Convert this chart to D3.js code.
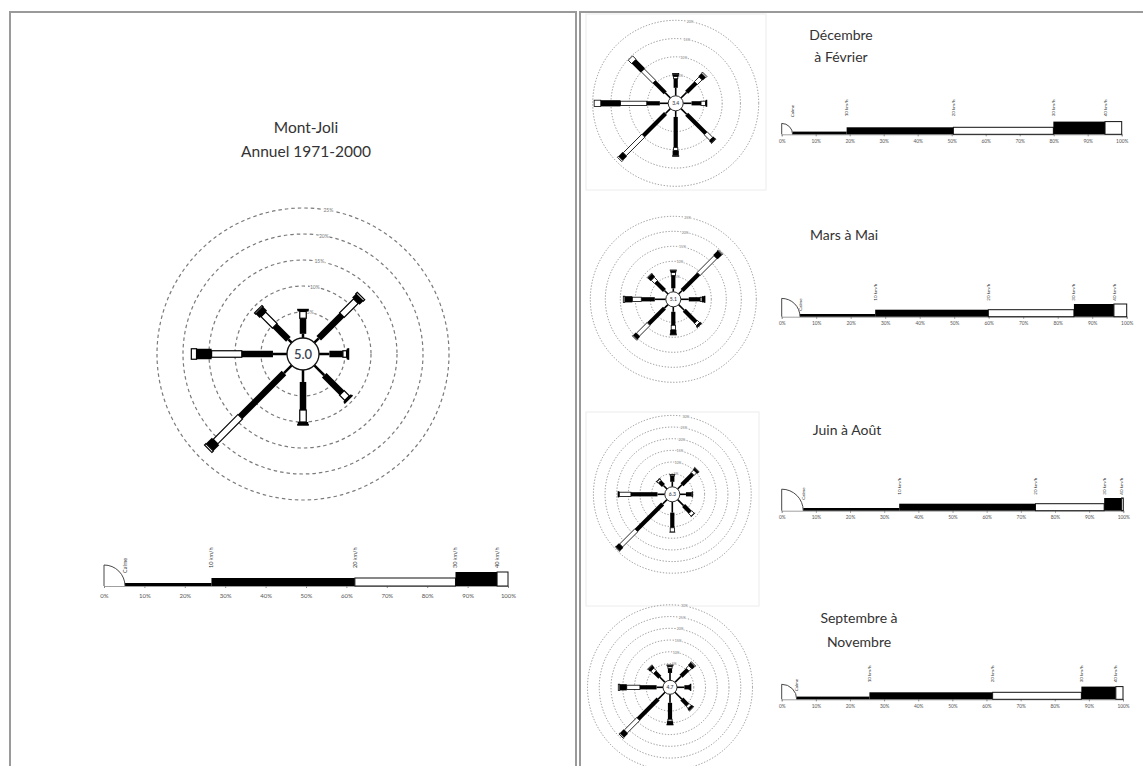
<!DOCTYPE html>
<html><head><meta charset="utf-8">
<script src="https://cdn.jsdelivr.net/npm/d3@7"></script>
<style>html,body{margin:0;padding:0;background:#fff;}svg{display:block;}</style>
</head><body><svg id="c" width="1143" height="766"></svg>
<script>
// ---------- data ----------
const directions = ["N","NE","E","SE","S","SO","O","NO"];
const speedClasses = ["1-10 km/h","10-20 km/h","20-30 km/h","30-40 km/h",">40 km/h"];
const barLabels = ["Calme","10 km/h","20 km/h","30 km/h","40 km/h"];
const tickValues = [0,10,20,30,40,50,60,70,80,90,100];
const tickLabels = ["0%","10%","20%","30%","40%","50%","60%","70%","80%","90%","100%"];

const titles = [["Mont-Joli","Annuel 1971-2000"],["Décembre","à Février"],["Mars à Mai"],["Juin à Août"],["Septembre à","Novembre"]];
const calmLabels = ["5.0","3.4","5.1","6.3","4.7"];

const annualRings = [5,10,15,20,25];
const decFebRings = [5,10,15,20];
const marMaiRings = [5,10,15,20,25];
const junAugRings = [5,10,15,20,25,30];
const sepNovRings = [5,10,15,20,25,30];

// % per direction (N..NO) and speed class
const annualRose = [
 [0.8,3.0,1.3,0.3,0.1],[1.2,6.3,3.8,1.0,0.4],[2.0,2.6,0.7,0.3,0.1],[2.7,4.8,1.4,0.3,0.1],
 [2.3,5.4,2.3,0.5,0.1],[2.1,11.9,6.7,1.6,0.4],[2.7,6.0,5.8,2.9,1.0],[0.9,3.7,3.1,1.1,0.3]];
const decFebRose = [
 [1.5,2.5,0.6,0.6,0.2],[1.5,3.6,1.8,1.2,0.4],[1.6,2.6,1.2,0.3,0.1],[1.5,7.4,2.1,0.8,0.2],
 [1.0,8.4,0.8,1.4,0.2],[1.2,8.6,7.2,1.6,0.4],[1.6,3.6,7.2,5.4,1.8],[1.3,4.3,4.4,3.5,1.3]];
const marMaiRose = [
 [1.0,4.3,1.0,0.6,0.2],[1.5,7.8,7.9,2.1,0.3],[2.5,3.8,0.6,0.8,0.2],[2.5,5.5,1.0,0.6,0.1],
 [1.5,4.5,1.5,1.4,0.3],[1.5,7.5,5.0,1.3,0.3],[3.5,4.5,3.0,2.5,0.5],[1.5,4.0,1.5,1.3,0.3]];
const junAugRose = [
 [1.5,2.5,0.5,0.2,0.0],[2.0,6.5,1.5,1.0,0.1],[2.0,2.5,0.4,0.1,0.0],[3.0,4.0,1.5,0.3,0.0],
 [4.0,6.5,1.8,0.2,0.0],[2.0,16.0,9.2,2.0,0.2],[2.5,11.4,5.0,0.7,0.0],[1.5,2.3,0.8,0.3,0.0]];
const sepNovRose = [
 [1.0,2.0,0.7,0.5,0.2],[1.5,4.0,1.5,1.6,0.4],[1.0,2.0,0.3,0.4,0.1],[2.0,3.5,1.2,1.0,0.2],
 [1.5,7.0,0.8,1.4,0.2],[2.0,12.0,7.5,2.3,0.5],[0.6,7.1,5.6,3.0,0.6],[1.0,3.0,1.5,1.3,0.3]];

// cumulative class boundaries (%): calm end, 10, 20, 30, 40 km/h
const annualBar = [5.2,26.6,62.1,87.0,97.3];
const decFebBar = [3.2,19.1,50.5,79.9,95.1];
const marMaiBar = [5.3,27.1,59.9,84.7,96.3];
const junAugBar = [6.3,34.4,74.3,94.4,99.5];
const sepNovBar = [4.4,25.7,61.8,87.8,97.9];

// ---------- layout ----------
const svg = d3.select("#c");
const FONT = "Lato, 'Open Sans', 'Liberation Sans', sans-serif";

// panel frames
svg.append("rect").attr("x",10).attr("y",12).attr("width",566).attr("height",770)
  .attr("fill","none").attr("stroke","#9a9a9a").attr("stroke-width",2);
svg.append("rect").attr("x",580).attr("y",12).attr("width",570).attr("height",770)
  .attr("fill","none").attr("stroke","#9a9a9a").attr("stroke-width",2);
// faint picture frames of small roses
svg.append("rect").attr("x",586).attr("y",14).attr("width",180).attr("height",176)
  .attr("fill","none").attr("stroke","#ececec").attr("stroke-width",1);
svg.append("rect").attr("x",586).attr("y",412).attr("width",173).attr("height",194)
  .attr("fill","none").attr("stroke","#ececec").attr("stroke-width",1);

const SW = [1.6,4.2,4.2,6.2,6.2];
const panels = [
 {rose:annualRose, bar:annualBar, rings:annualRings, calm:calmLabels[0], title:titles[0],
  cx:303, cy:354, r0:16, calmR:16, k:5.2, w:[2.5,6.5,6.5,10.5,10.5], dash:"3.5,3", ringW:1.2, ringFs:5, calmFs:13,
  bx0:104, bx1:508, base:586, bh:[3,8,8,14,14], labFs:5.5, tickFs:6, tickDy:11, calmLabOff:13, labOff:18,
  tx:306, ty:[133,157], tfs:15.5},
 {rose:decFebRose, bar:decFebBar, rings:decFebRings, calm:calmLabels[1], title:titles[1],
  cx:675.7, cy:103.3, r0:10, calmR:7.5, k:3.65, w:SW, dash:"1.3,1.7", ringW:0.8, ringFs:3.5, calmFs:5,
  bx0:781.7, bx1:1121.7, base:134.3, bh:[2.7,7,7,12.7,12.7], labFs:4.5, tickFs:4.8, tickDy:8, calmLabOff:17, labOff:18,
  tx:841, ty:[40,62], tfs:14},
 {rose:marMaiRose, bar:marMaiBar, rings:marMaiRings, calm:calmLabels[2], title:titles[2],
  cx:673.3, cy:299.3, r0:8, calmR:7.5, k:3.0, w:SW, dash:"1.3,1.7", ringW:0.8, ringFs:3.5, calmFs:5,
  bx0:781.7, bx1:1126.7, base:316.7, bh:[2.7,7,7,12.7,12.7], labFs:4.5, tickFs:4.8, tickDy:8, calmLabOff:6, labOff:16,
  tx:844, ty:[240], tfs:14},
 {rose:junAugRose, bar:junAugBar, rings:junAugRings, calm:calmLabels[3], title:titles[3],
  cx:672.3, cy:494.3, r0:9, calmR:7.5, k:2.33, w:SW, dash:"1.3,1.7", ringW:0.8, ringFs:3.5, calmFs:5,
  bx0:781.7, bx1:1123.3, base:510.7, bh:[2.7,7,7,12.7,12.7], labFs:4.5, tickFs:4.8, tickDy:8, calmLabOff:11, labOff:16,
  tx:847, ty:[435], tfs:14},
 {rose:sepNovRose, bar:sepNovBar, rings:sepNovRings, calm:calmLabels[4], title:titles[4],
  cx:670, cy:687.3, r0:12, calmR:7, k:2.35, w:SW, dash:"1.3,1.7", ringW:0.8, ringFs:3.5, calmFs:5,
  bx0:781.7, bx1:1123, base:699.3, bh:[2.7,7,7,12.7,12.7], labFs:4.5, tickFs:4.8, tickDy:8, calmLabOff:8, labOff:17,
  tx:859, ty:[623,647], tfs:14}
];

panels.forEach(p => {
  // ----- rose -----
  const maxRing = d3.max(p.rings);
  const r = d3.scaleLinear().domain([0, maxRing]).range([p.r0, p.r0 + p.k*maxRing]);
  const g = svg.append("g").attr("transform", `translate(${p.cx},${p.cy})`);
  g.selectAll("circle.ring").data(p.rings).join("circle").attr("class","ring")
    .attr("r", d => r(d)).attr("fill","none").attr("stroke","#7a7a7a")
    .attr("stroke-width", p.ringW).attr("stroke-dasharray", p.dash);
  const la = 10*Math.PI/180;
  g.selectAll("text.rl").data(p.rings).join("text").attr("class","rl")
    .attr("x", d => r(d)*Math.sin(la)).attr("y", d => -r(d)*Math.cos(la) + p.ringFs*0.35)
    .attr("text-anchor","middle").attr("font-size", p.ringFs).attr("font-family", FONT)
    .attr("fill","#777").attr("stroke","#fff").attr("stroke-width",1.5).attr("paint-order","stroke")
    .text(d => d + "%");
  // arms
  const arms = g.selectAll("g.arm").data(p.rose).join("g").attr("class","arm")
    .attr("transform", (d,i) => `rotate(${i*45})`);
  arms.each(function(vals){
    let cum = 0;
    const segs = vals.map((v,j) => { const s = {j, a:cum, b:cum+v}; cum += v; return s; });
    d3.select(this).selectAll("rect").data(segs.filter(s => s.b > s.a)).join("rect")
      .attr("x", s => -p.w[s.j]/2)
      .attr("y", s => -r(s.b))
      .attr("width", s => p.w[s.j])
      .attr("height", s => Math.max(0.6, r(s.b) - (s.j===0 ? p.calmR : r(s.a))))
      .attr("fill", s => (s.j===2 || s.j===4) ? "#fff" : "#000")
      .attr("stroke", s => (s.j===2 || s.j===4) ? "#000" : "none")
      .attr("stroke-width", p.ringW);
  });
  g.append("circle").attr("r", p.calmR).attr("fill","#fff").attr("stroke","#111").attr("stroke-width", p.ringW*1.1);
  g.append("text").attr("text-anchor","middle").attr("dy", p.calmFs*0.36)
    .attr("font-size", p.calmFs).attr("font-weight", 600).attr("font-family", FONT)
    .attr("fill","#3b4352").text(p.calm);

  // ----- bar -----
  const x = d3.scaleLinear().domain([0,100]).range([p.bx0, p.bx1]);
  const bg = svg.append("g");
  const axis = d3.axisBottom(x).tickValues(tickValues).tickFormat((d,i) => tickLabels[i])
    .tickSize(2).tickPadding(p.tickDy - 5);
  const ax = bg.append("g").attr("transform", `translate(0,${p.base})`).call(axis);
  ax.select(".domain").attr("stroke","#888").attr("stroke-width",0.8);
  ax.selectAll(".tick line").attr("stroke","#888");
  ax.selectAll(".tick text").attr("font-size", p.tickFs).attr("font-family", FONT).attr("fill","#555");

  const bounds = [p.bar[0], ...p.bar.slice(1), 100];
  const bsegs = bounds.slice(0,5).map((a,j) => ({j, a, b: bounds[j+1]}));
  bg.selectAll("rect.seg").data(bsegs).join("rect").attr("class","seg")
    .attr("x", s => x(s.a)).attr("width", s => x(s.b) - x(s.a))
    .attr("y", s => p.base - p.bh[s.j]).attr("height", s => p.bh[s.j])
    .attr("fill", s => (s.j===2 || s.j===4) ? "#fff" : "#000")
    .attr("stroke", s => (s.j===2 || s.j===4) ? "#111" : "none").attr("stroke-width",1);
  // calm quarter circle
  const cw = x(p.bar[0]) - x(0);
  bg.append("path")
    .attr("d", `M${x(0)},${p.base} L${x(0)},${p.base-cw} A${cw},${cw} 0 0 1 ${x(0)+cw},${p.base}`)
    .attr("fill","none").attr("stroke","#333").attr("stroke-width",0.9);
  // rotated labels
  bg.selectAll("text.bl").data(p.bar).join("text").attr("class","bl")
    .attr("transform", (d,i) => `translate(${x(d) + p.labFs*0.35},${p.base - (i===0 ? p.calmLabOff : p.labOff)}) rotate(-90)`)
    .attr("font-size", p.labFs).attr("font-family", FONT).attr("fill","#333")
    .text((d,i) => barLabels[i]);

  // ----- title -----
  svg.append("g").selectAll("text").data(p.title).join("text")
    .attr("x", p.tx).attr("y", (d,i) => p.ty[i]).attr("text-anchor","middle")
    .attr("font-size", p.tfs).attr("font-family", FONT).attr("fill","#333").text(d => d);
});
</script></body></html>
